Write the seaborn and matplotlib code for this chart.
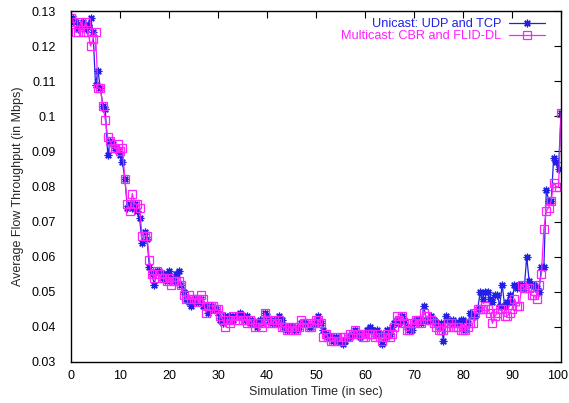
import numpy as np
import pandas as pd
import matplotlib
matplotlib.use("Agg")
import matplotlib.pyplot as plt
import matplotlib.transforms as mtransforms
import seaborn as sns
from matplotlib.ticker import FormatStrFormatter, MultipleLocator

# time axis (seconds), 0.5 s step
time_s = [i * 0.5 for i in range(201)]

unicast = [
    0.127, 0.128, 0.127, 0.125, 0.126, 0.127, 0.125, 0.126, 0.128, 0.124,
    0.109, 0.113, 0.108, 0.103, 0.102, 0.089, 0.093, 0.092, 0.091, 0.090,
    0.089, 0.087, 0.082, 0.074, 0.075, 0.074, 0.075, 0.073, 0.071, 0.064,
    0.067, 0.065, 0.057, 0.055, 0.052, 0.056, 0.056, 0.054, 0.055, 0.053,
    0.056, 0.054, 0.053, 0.055, 0.056, 0.052, 0.050, 0.048, 0.047, 0.046,
    0.048, 0.047, 0.047, 0.048, 0.046, 0.046, 0.044, 0.046, 0.045, 0.045,
    0.044, 0.042, 0.041, 0.043, 0.042, 0.043, 0.042, 0.043, 0.043, 0.044,
    0.043, 0.042, 0.043, 0.041, 0.042, 0.041, 0.040, 0.042, 0.041, 0.044,
    0.043, 0.042, 0.041, 0.042, 0.041, 0.043, 0.042, 0.040, 0.039, 0.040,
    0.040, 0.039, 0.039, 0.040, 0.041, 0.041, 0.041, 0.040, 0.040, 0.041,
    0.041, 0.043, 0.041, 0.039, 0.038, 0.037, 0.037, 0.036, 0.037, 0.036,
    0.036, 0.035, 0.036, 0.037, 0.037, 0.038, 0.039, 0.038, 0.037, 0.038,
    0.038, 0.039, 0.040, 0.039, 0.038, 0.039, 0.038, 0.035, 0.037, 0.039,
    0.038, 0.040, 0.041, 0.042, 0.041, 0.043, 0.042, 0.040, 0.039, 0.039,
    0.041, 0.042, 0.042, 0.041, 0.046, 0.042, 0.042, 0.043, 0.042, 0.041,
    0.040, 0.041, 0.036, 0.043, 0.042, 0.041, 0.042, 0.041, 0.041, 0.042,
    0.042, 0.039, 0.041, 0.044, 0.043, 0.043, 0.045, 0.050, 0.048, 0.050,
    0.050, 0.048, 0.047, 0.049, 0.049, 0.046, 0.052, 0.046, 0.047, 0.049,
    0.047, 0.052, 0.051, 0.052, 0.052, 0.051, 0.060, 0.053, 0.052, 0.052,
    0.051, 0.050, 0.057, 0.057, 0.079, 0.076, 0.076, 0.088, 0.087, 0.085,
    0.101,
]

multicast = [
    0.128, 0.127, 0.124, 0.124, 0.127, 0.124, 0.127, 0.124, 0.120, 0.122,
    0.124, 0.108, 0.108, 0.103, 0.099, 0.094, 0.093, 0.091, 0.091, 0.092,
    0.090, 0.091, 0.082, 0.075, 0.073, 0.078, 0.075, 0.075, 0.074, 0.066,
    0.066, 0.066, 0.059, 0.055, 0.054, 0.056, 0.055, 0.054, 0.054, 0.053,
    0.054, 0.052, 0.053, 0.053, 0.053, 0.052, 0.049, 0.048, 0.049, 0.048,
    0.048, 0.048, 0.047, 0.049, 0.048, 0.044, 0.046, 0.046, 0.046, 0.045,
    0.045, 0.043, 0.042, 0.040, 0.042, 0.041, 0.043, 0.042, 0.042, 0.043,
    0.042, 0.042, 0.041, 0.042, 0.041, 0.040, 0.041, 0.041, 0.040, 0.044,
    0.042, 0.041, 0.041, 0.042, 0.041, 0.042, 0.040, 0.040, 0.039, 0.040,
    0.039, 0.040, 0.039, 0.040, 0.042, 0.041, 0.041, 0.040, 0.040, 0.041,
    0.042, 0.042, 0.041, 0.037, 0.038, 0.037, 0.036, 0.036, 0.037, 0.036,
    0.036, 0.037, 0.037, 0.037, 0.038, 0.038, 0.039, 0.038, 0.038, 0.037,
    0.037, 0.038, 0.038, 0.038, 0.037, 0.038, 0.037, 0.036, 0.037, 0.038,
    0.037, 0.038, 0.040, 0.043, 0.042, 0.043, 0.041, 0.039, 0.039, 0.041,
    0.041, 0.042, 0.042, 0.041, 0.044, 0.043, 0.042, 0.042, 0.041, 0.040,
    0.039, 0.039, 0.039, 0.040, 0.041, 0.041, 0.040, 0.040, 0.040, 0.039,
    0.039, 0.039, 0.040, 0.041, 0.041, 0.044, 0.045, 0.045, 0.045, 0.046,
    0.045, 0.044, 0.041, 0.043, 0.044, 0.045, 0.045, 0.043, 0.043, 0.044,
    0.045, 0.048, 0.046, 0.046, 0.052, 0.051, 0.051, 0.051, 0.049, 0.049,
    0.048, 0.052, 0.055, 0.068, 0.073, 0.074, 0.076, 0.081, 0.080, 0.080,
    0.101,
]

series_names = ["Unicast: UDP and TCP", "Multicast: CBR and FLID-DL"]
x_ticks = list(range(0, 101, 10))

df = pd.DataFrame({"t": time_s, "uni": unicast, "multi": multicast})

sns.set_theme(style="white")
plt.rcParams["font.family"] = ["Liberation Sans", "DejaVu Sans"]

fig = plt.figure(figsize=(5.69, 4.03), dpi=100)
ax = fig.add_axes([71 / 569, 1 - 362 / 403, 490 / 569, 351 / 403])

blue = "#2020e8"
pink = "#ff20ff"

sns.lineplot(data=df, x="t", y="uni", ax=ax, color=blue, linewidth=0.9,
             marker=(8, 2, 0), markersize=5.5, markeredgecolor=blue,
             markeredgewidth=0.9, label=series_names[0])
sns.lineplot(data=df, x="t", y="multi", ax=ax, color=pink, linewidth=0.9,
             marker="s", markersize=5.5, markerfacecolor="none",
             markeredgecolor=pink, markeredgewidth=0.9, label=series_names[1])

ax.set_xlim(0, 100)
ax.set_ylim(0.03, 0.13)
ax.set_xticks(x_ticks)
ax.yaxis.set_major_locator(MultipleLocator(0.01))
ax.yaxis.set_major_formatter(FormatStrFormatter("%g"))
ax.xaxis.set_major_formatter(FormatStrFormatter("%g"))
ax.tick_params(direction="in", length=5, width=0.8, top=True, right=True,
               labelsize=9, colors="black")
ax.tick_params(axis="y", pad=11)
ax.tick_params(axis="x", pad=6)
for s in ax.spines.values():
    s.set_color("black")
    s.set_linewidth(1.0)

# nudge the last x tick label so it stays inside the figure
fig.canvas.draw()
last = ax.get_xticklabels()[-1]
last.set_transform(last.get_transform() +
                   mtransforms.ScaledTranslation(-3 / 100, 0, fig.dpi_scale_trans))

ax.set_xlabel("Simulation Time (in sec)", fontsize=9, labelpad=3)
ax.set_ylabel("Average Flow Throughput (in Mbps)", fontsize=9, labelpad=5)

leg = ax.legend(loc="upper right", frameon=False, markerfirst=False,
                fontsize=9.2, handlelength=2.8, borderaxespad=0.0,
                borderpad=0.4, bbox_to_anchor=(0.978, 0.994),
                labelspacing=0.0, handletextpad=0.62)
for txt, c in zip(leg.get_texts(), [blue, pink]):
    txt.set_color(c)
    txt.set_ha("right")
leg._legend_box.align = "right"

fig.savefig("out.png", dpi=100)
